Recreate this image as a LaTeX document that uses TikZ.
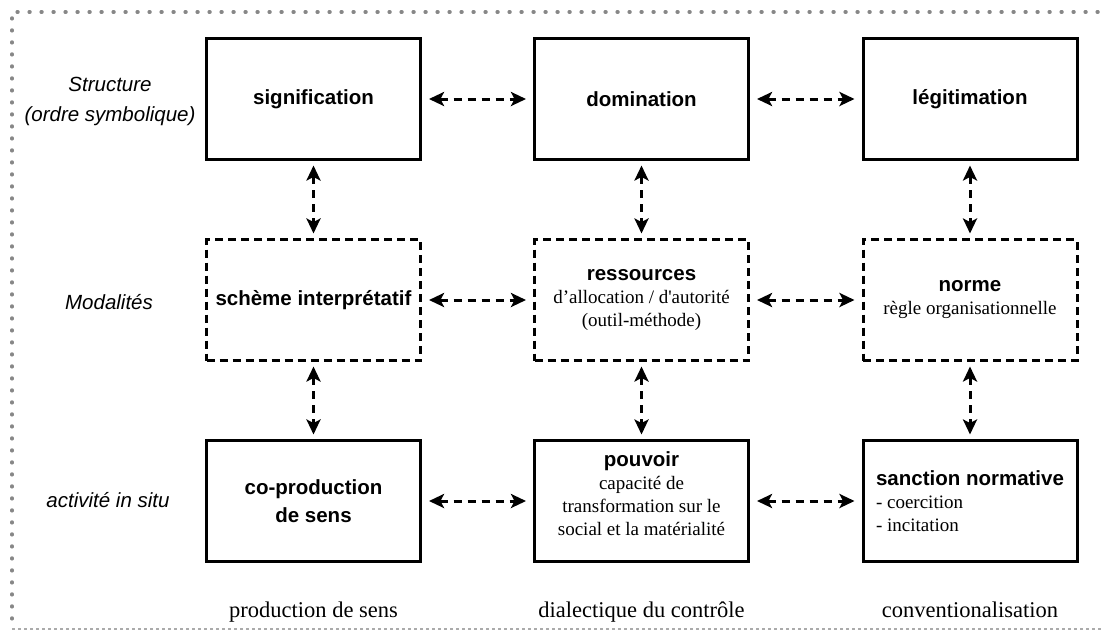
\documentclass[tikz,border=0pt]{standalone}
\usepackage{fontspec}
\setmainfont{Liberation Serif}
\setsansfont{Liberation Sans}
\usetikzlibrary{arrows.meta}
\definecolor{framegray}{RGB}{135,135,135}
\newcommand{\boxtitle}[1]{{\sffamily\bfseries\fontsize{20.5}{23}\selectfont #1}}

\begin{document}
\begin{tikzpicture}[
    x=1pt, y=-1pt,
    box/.style={rectangle, draw, line width=3pt, minimum width=214pt, minimum height=121pt, align=center, inner sep=4pt, font=\fontsize{19}{23}\selectfont},
    dashbox/.style={box, dash pattern=on 8pt off 5pt},
    link/.style={{Stealth[length=15pt,width=14pt,inset=3.5pt]}-{Stealth[length=15pt,width=14pt,inset=3.5pt]}, line width=3pt, dash pattern=on 8pt off 6pt},
    hlink/.style={link, shorten <=7pt, shorten >=7pt},
    vlink/.style={link, shorten <=4.5pt, shorten >=4.5pt},
    rowlabel/.style={font=\sffamily\itshape\fontsize{20.5}{30}\selectfont, align=center},
    collabel/.style={font=\fontsize{22.5}{26}\selectfont, anchor=base}
]
\useasboundingbox (0,0) rectangle (1102,643);

% Frame
\draw[framegray, line width=3.5pt, line cap=round, dash pattern=on 0.8pt off 11.2pt] (1110,12) -- (12,12) -- (12,629);
\draw[framegray!70, line width=1.5pt, dash pattern=on 3pt off 3pt] (12,629) -- (1110,629);

% Structure (top row)
\node[box] (sig) at (313.5,99) {\boxtitle{signification}};
\node[box] (dom) at (641.5,99) {\boxtitle{domination}};
\node[box] (leg) at (970,99) {\boxtitle{légitimation}};

% Modalites (middle row)
\node[dashbox] (scheme) at (313.5,300) {\boxtitle{schème interprétatif}};
\node[dashbox] (ress) at (641.5,300) {\boxtitle{ressources}\\d’allocation / d\textquotesingle autorité\\(outil-méthode)};
\node[dashbox] (norme) at (970,300) {\boxtitle{norme}\\règle organisationnelle};

% Activite in situ (bottom row)
\node[box] (coprod) at (313.5,501) {\boxtitle{co-production}\\[5pt]\boxtitle{de sens}};
\node[box] (pouv) at (641.5,501) {\boxtitle{pouvoir}\\capacité de\\transformation sur le\\social et la matérialité\\[-8pt]};
\node[box, align=left] (sanc) at (970,501) {\boxtitle{sanction normative}\\- coercition\\- incitation};

% Row labels
\node[rowlabel] (lstruct) at (110,101) {Structure\\(ordre symbolique)};
\node[rowlabel] (lmod) at (109,302) {Modalités};
\node[rowlabel] (lact) at (108,500) {activité in situ};

% Column labels
\node[collabel] (lsens) at (313.5,617) {production de sens};
\node[collabel] (lcontr) at (641.5,617) {dialectique du contrôle};
\node[collabel] (lconv) at (970,617) {conventionalisation};

% Horizontal links
\draw[hlink] (sig) -- (dom);
\draw[hlink] (dom) -- (leg);
\draw[hlink] (scheme) -- (ress);
\draw[hlink] (ress) -- (norme);
\draw[hlink] (coprod) -- (pouv);
\draw[hlink] (pouv) -- (sanc);

% Vertical links
\draw[vlink] (sig) -- (scheme);
\draw[vlink] (scheme) -- (coprod);
\draw[vlink] (dom) -- (ress);
\draw[vlink] (ress) -- (pouv);
\draw[vlink] (leg) -- (norme);
\draw[vlink] (norme) -- (sanc);

\end{tikzpicture}
\end{document}
